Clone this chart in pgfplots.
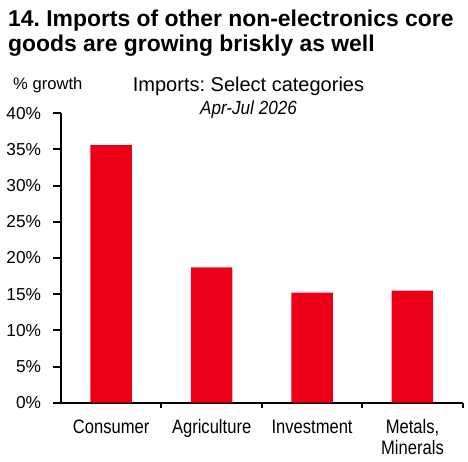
\documentclass[border=0pt]{standalone}
\usepackage{fontspec}
\setmainfont{Liberation Sans}
\newfontfamily\narrowfont[FakeStretch=0.85]{Liberation Sans}
\newfontfamily\narrowit[FakeStretch=0.9]{Liberation Sans}
\usepackage{pgfplots}
\pgfplotsset{compat=1.18}
\definecolor{barred}{RGB}{235,0,24}
\frenchspacing
\begin{document}
\begin{tikzpicture}
\begin{axis}[
  name=ax, at={(0,0)}, anchor=south west,
  scale only axis, width=401.7pt, height=289.4pt,
  xmin=-0.5, xmax=3.5, ymin=0, ymax=40,
  axis x line=bottom, axis y line=left,
  axis line style={line width=2pt, -},
  tick align=outside,
  ytick={0,5,...,40},
  yticklabel={\pgfmathprintnumber{\tick}\%},
  /pgf/number format/assume math mode=true,
  y tick label style={font=\fontsize{17.3}{21}\selectfont, inner sep=0pt, anchor=east, xshift=-12pt},
  xtick={0,1,2,3},
  xticklabels={Consumer,Agriculture,Investment,{Metals,\\Minerals}},
  x tick label style={align=center, font=\narrowfont\fontsize{19.5}{21}\selectfont, inner sep=0pt, yshift=-9pt},
  major x tick style={draw=none},
  minor xtick={0.5,1.5,2.5,3.5},
  major tick length=7.7pt, minor tick length=5pt,
  tick style={line width=2pt, black},
]
\addplot[ybar, bar width=41.5pt, fill=barred, draw=none] coordinates {(0,35.6) (1,18.7) (2,15.2) (3,15.5)};
\end{axis}
\begin{scope}[shift={(ax.south west)}, x=1pt, y=1pt]
\node[anchor=base west, inner sep=0pt, font=\bfseries\fontsize{22.9}{25}\selectfont] at (-53,375.7) {14. Imports of other non-electronics core};
\node[anchor=base west, inner sep=0pt, font=\bfseries\fontsize{22.9}{25}\selectfont] at (-53,350.7) {goods are growing briskly as well};
\node[anchor=base west, inner sep=0pt, font=\fontsize{16.6}{20}\selectfont] at (-48,312.7) {\% growth};
\node[anchor=base, inner sep=0pt, font=\fontsize{20}{24}\selectfont] at (187.5,311.2) {Imports: Select categories};
\node[anchor=base, inner sep=0pt, font=\narrowit\itshape\fontsize{19}{22}\selectfont] at (187.5,288.4) {Apr-Jul 2026};
\pgfresetboundingbox
\path[use as bounding box] (-61,-58.3) rectangle (407,402.7);
\end{scope}
\end{tikzpicture}
\end{document}
